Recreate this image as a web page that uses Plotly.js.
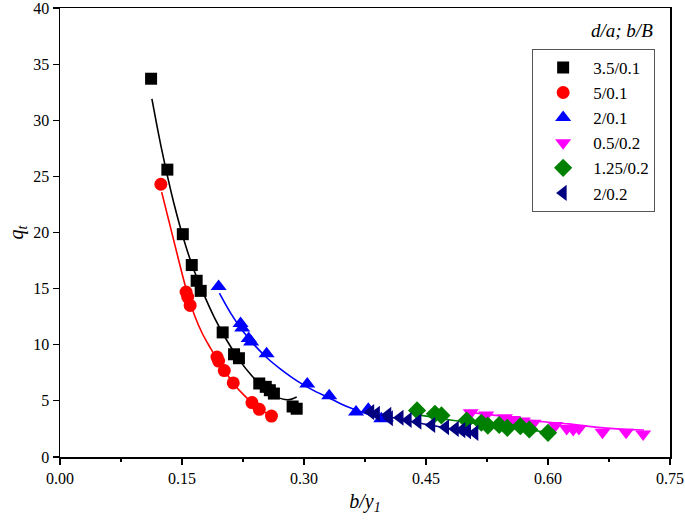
<!DOCTYPE html>
<html>
<head>
<meta charset="utf-8">
<script src="https://cdn.plot.ly/plotly-3.0.1.min.js"></script>
<style>html,body{margin:0;padding:0;background:#fff;}#chart{width:685px;height:525px;}</style>
</head>
<body>
<div id="chart"></div>
<script>
// ---- Data ----
const seriesNames = ["3.5/0.1", "5/0.1", "2/0.1", "0.5/0.2", "1.25/0.2", "2/0.2"];
const seriesColors = ["#000000", "#ff0000", "#0000ff", "#ff00ff", "#008000", "#000080"];
const seriesSymbols = ["square", "circle", "triangle-up", "triangle-down", "diamond", "triangle-left"];

// 3.5/0.1 (black squares)
const xBlack = [0.112, 0.132, 0.151, 0.162, 0.168, 0.173, 0.200, 0.214, 0.220, 0.245, 0.253, 0.258, 0.263, 0.286, 0.291];
const yBlack = [33.7, 25.6, 19.85, 17.1, 15.7, 14.8, 11.1, 9.15, 8.8, 6.55, 6.25, 5.95, 5.65, 4.5, 4.3];
// 5/0.1 (red circles)
const xRed = [0.124, 0.155, 0.157, 0.160, 0.193, 0.195, 0.202, 0.213, 0.236, 0.245, 0.260];
const yRed = [24.3, 14.7, 14.25, 13.5, 8.9, 8.55, 7.7, 6.6, 4.85, 4.25, 3.65];
// 2/0.1 (blue up-triangles)
const xBlue = [0.195, 0.222, 0.224, 0.232, 0.235, 0.254, 0.304, 0.331, 0.364, 0.379, 0.395];
const yBlue = [15.2, 11.9, 11.5, 10.55, 10.25, 9.2, 6.5, 5.45, 4.0, 4.25, 3.4];
// 0.5/0.2 (magenta down-triangles)
const xMag = [0.505, 0.524, 0.547, 0.557, 0.569, 0.582, 0.609, 0.623, 0.631, 0.638, 0.667, 0.696, 0.717];
const yMag = [3.95, 3.75, 3.5, 3.35, 3.2, 3.0, 2.8, 2.55, 2.45, 2.55, 2.2, 2.2, 2.05];
// 1.25/0.2 (green diamonds)
const xGreen = [0.439, 0.461, 0.469, 0.500, 0.518, 0.526, 0.540, 0.550, 0.566, 0.577, 0.600];
const yGreen = [4.15, 3.85, 3.7, 3.25, 3.05, 2.8, 2.85, 2.6, 2.75, 2.45, 2.15];
// 2/0.2 (navy left-triangles)
const xNavy = [0.382, 0.389, 0.403, 0.405, 0.418, 0.428, 0.440, 0.457, 0.474, 0.486, 0.494, 0.501, 0.510];
const yNavy = [4.0, 3.85, 3.75, 3.45, 3.5, 3.3, 3.15, 2.85, 2.65, 2.5, 2.4, 2.3, 2.15];

// Fitted curves
const xBlackFit = [0.113, 0.125, 0.140, 0.155, 0.165, 0.175, 0.190, 0.205, 0.220, 0.235, 0.250, 0.265, 0.280, 0.291];
const yBlackFit = [31.9, 27.4, 22.6, 18.7, 16.6, 14.8, 12.4, 10.4, 8.7, 7.3, 6.2, 5.4, 5.1, 5.35];
const xRedFit = [0.125, 0.135, 0.145, 0.155, 0.165, 0.175, 0.185, 0.195, 0.205, 0.215, 0.225, 0.235, 0.245, 0.258];
const yRedFit = [23.6, 20.7, 17.8, 15.0, 12.7, 11.0, 9.7, 8.5, 7.4, 6.4, 5.6, 4.9, 4.3, 3.75];
const xBlueFit = [0.196, 0.210, 0.225, 0.240, 0.255, 0.270, 0.285, 0.300, 0.315, 0.330, 0.345, 0.360, 0.375, 0.390, 0.410];
const yBlueFit = [14.6, 12.8, 11.2, 9.9, 8.8, 7.9, 7.1, 6.4, 5.8, 5.3, 4.75, 4.3, 3.9, 3.55, 3.2];
const xMagFit = [0.502, 0.543, 0.585, 0.625, 0.665, 0.700, 0.718];
const yMagFit = [4.0, 3.65, 3.2, 2.95, 2.62, 2.45, 2.4];
const xGreenFit = [0.440, 0.480, 0.520, 0.560, 0.600];
const yGreenFit = [3.75, 3.3, 2.9, 2.55, 2.2];
const xNavyFit = [0.383, 0.410, 0.440, 0.470, 0.495, 0.512];
const yNavyFit = [3.95, 3.5, 3.05, 2.65, 2.3, 2.05];

const xTickVals = [0, 0.15, 0.30, 0.45, 0.60, 0.75];
const xTickText = ["0.00", "0.15", "0.30", "0.45", "0.60", "0.75"];
const yTickVals = [0, 5, 10, 15, 20, 25, 30, 35, 40];
const yTickText = ["0", "5", "10", "15", "20", "25", "30", "35", "40"];

const pts = [[xBlack, yBlack], [xRed, yRed], [xBlue, yBlue], [xMag, yMag], [xGreen, yGreen], [xNavy, yNavy]];
const fits = [[xBlackFit, yBlackFit], [xRedFit, yRedFit], [xBlueFit, yBlueFit], [xMagFit, yMagFit], [xGreenFit, yGreenFit], [xNavyFit, yNavyFit]];
const sizes = [12, 13, 14, 14, 14, 14];

const traces = [];
fits.forEach((f, i) => {
  traces.push({x: f[0], y: f[1], mode: 'lines', type: 'scatter', line: {color: seriesColors[i], width: 1.6, shape: 'spline'}, showlegend: false, hoverinfo: 'skip'});
});
pts.forEach((p, i) => {
  traces.push({x: p[0], y: p[1], mode: 'markers', type: 'scatter', name: seriesNames[i],
    marker: {symbol: seriesSymbols[i], color: seriesColors[i], size: sizes[i], line: {width: 0}}});
});

const serif = "'Liberation Serif', 'Times New Roman', 'DejaVu Serif', serif";
const layout = {
  width: 685, height: 525,
  margin: {l: 60, r: 15, t: 8, b: 68},
  paper_bgcolor: '#fff', plot_bgcolor: '#fff',
  font: {family: serif, size: 14, color: '#000'},
  showlegend: true,
  xaxis: {
    range: [0, 0.75], tickvals: xTickVals, ticktext: xTickText,
    ticks: 'outside', ticklen: 6, tickwidth: 1.2, tickcolor: '#000',
    showline: true, linecolor: '#000', linewidth: 1.5, mirror: true,
    showgrid: false, zeroline: false, automargin: false,
    tickfont: {family: serif, size: 16, color: '#000'},
    minor: {dtick: 0.075, tick0: 0, ticks: 'outside', ticklen: 3, tickwidth: 1.2, tickcolor: '#000', showgrid: false},
    title: {text: '<i>b/y<sub>1</sub></i>', font: {family: serif, size: 20, color: '#000'}, standoff: 8}
  },
  yaxis: {
    range: [0, 40], tickvals: yTickVals, ticktext: yTickText,
    ticks: 'outside', ticklen: 6, tickwidth: 1.2, tickcolor: '#000',
    showline: true, linecolor: '#000', linewidth: 1.5, mirror: true,
    showgrid: false, zeroline: false, automargin: false,
    ticklabeloverflow: 'allow',
    tickfont: {family: serif, size: 16, color: '#000'},
    title: {text: '<i>q<sub>t</sub></i>', font: {family: serif, size: 20, color: '#000'}, standoff: 4}
  },
  legend: {
    x: 0.774, y: 0.909, xanchor: 'left', yanchor: 'top',
    bgcolor: '#fff', bordercolor: '#555', borderwidth: 1,
    font: {family: serif, size: 17, color: '#000'},
    tracegroupgap: 0, itemwidth: 50
  },
  annotations: [{
    xref: 'paper', yref: 'paper', x: 0.975, y: 0.922, xanchor: 'right', yanchor: 'bottom',
    text: '<i>d/a; b/B</i>', showarrow: false, font: {family: serif, size: 19, color: '#000'}
  }]
};

Plotly.newPlot('chart', traces, layout, {displayModeBar: false, staticPlot: true});
</script>
</body>
</html>
